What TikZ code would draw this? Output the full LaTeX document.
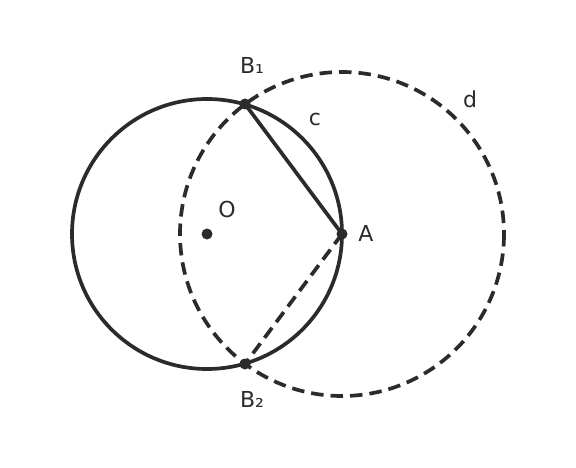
\documentclass[tikz,border=0pt]{standalone}
\usepackage{fontspec}
\setmainfont{DejaVu Sans}
\begin{document}
\begin{tikzpicture}[x=1pt,y=-1pt,
  curve/.style={line width=3.7pt, draw=ink},
  dsh/.style={curve, dash pattern=on 12.5pt off 7pt},
  pt/.style={circle, fill=ink, inner sep=0pt, minimum size=11pt},
  lbl/.style={text=ink, font=\fontsize{22}{26}\selectfont, inner sep=0pt}]
\definecolor{ink}{HTML}{2B2B2B}
\useasboundingbox (0,0) rectangle (576,468);
\coordinate (Oc) at (207,234);
\coordinate (Ac) at (342,234);
\draw[curve] (Oc) circle[radius=135];
\draw[dsh] (Ac) circle[radius=162];
\node[pt] (O) at (Oc) {};
\node[pt] (A) at (Ac) {};
\node[pt] (B1) at (245,104) {};
\node[pt] (B2) at (245,364) {};
\draw[curve] (B1.center) -- (A.center);
\draw[dsh] (A.center) -- (B2.center);
\node[lbl] (lB1) at (252,65) {B₁};
\node[lbl] (lB2) at (252,399) {B₂};
\node[lbl] (lO) at (227,209) {O};
\node[lbl] (lA) at (366,233) {A};
\node[lbl] (lc) at (315,119) {c};
\node[lbl] (ld) at (470,99) {d};
\end{tikzpicture}
\end{document}
